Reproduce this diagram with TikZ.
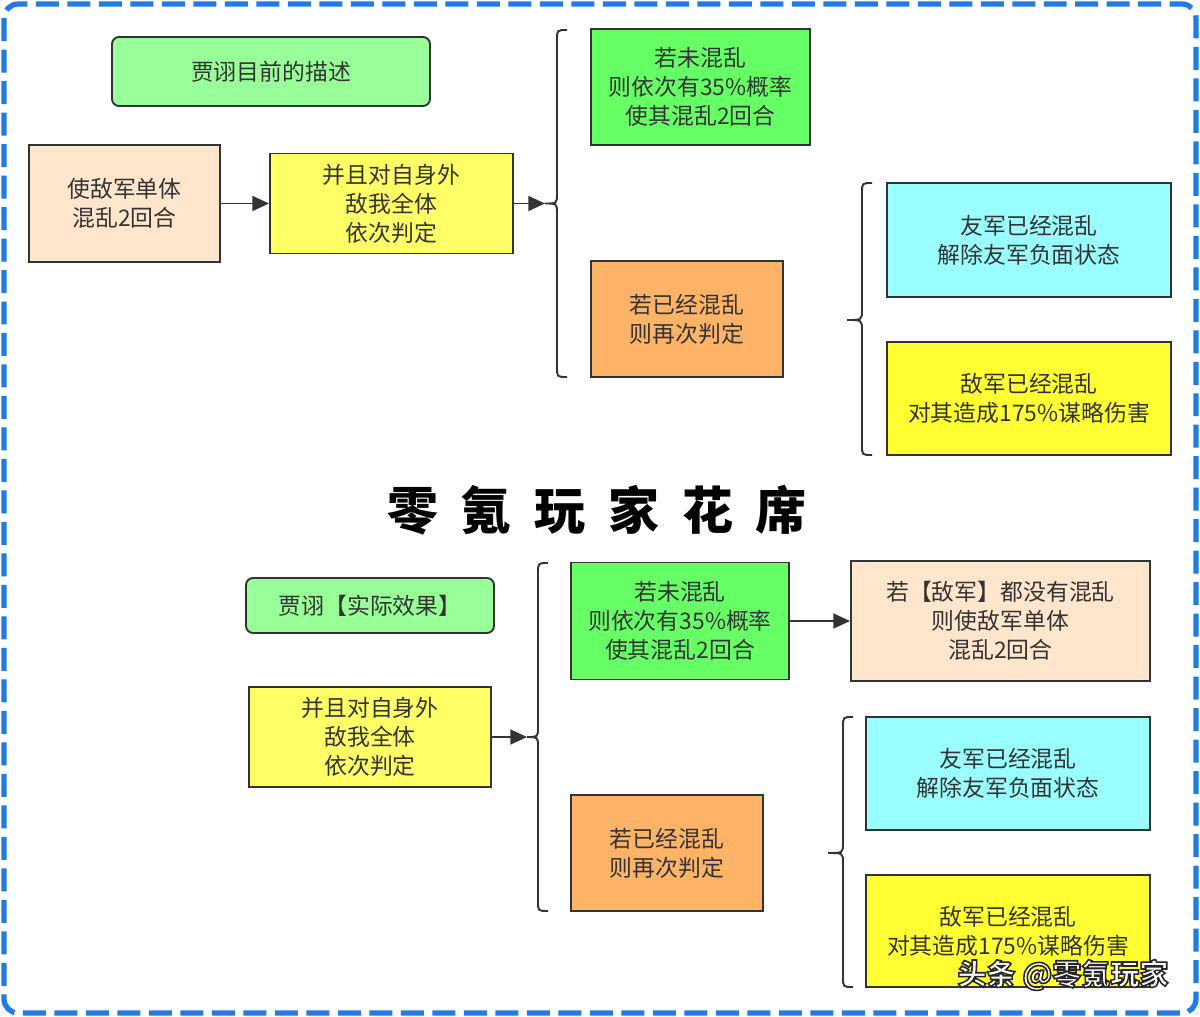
\documentclass[tikz,border=0pt]{standalone}
\usepackage{fontspec}
\setmainfont{Noto Sans CJK SC}
\usetikzlibrary{arrows.meta}
\definecolor{bord}{HTML}{333333}
\definecolor{frameblue}{HTML}{1F7BE6}
\definecolor{lgreen}{HTML}{99FF99}
\definecolor{dgreen}{HTML}{66FF66}
\definecolor{peach}{HTML}{FFE6CC}
\definecolor{lyellow}{HTML}{FFFF66}
\definecolor{byellow}{HTML}{FFFF33}
\definecolor{orng}{HTML}{FFB366}
\definecolor{cyn}{HTML}{99FFFF}
\newcommand\mybrace[5]{%
  \draw[brc] (#1+10,#2) .. controls (#1,#2) .. (#1,#2+10) -- (#1,#3-10)
    .. controls (#1,#3) .. (#1-#5,#3) .. controls (#1,#3) .. (#1,#3+10)
    -- (#1,#4-10) .. controls (#1,#4) .. (#1+10,#4);}
\newcommand\outlinetext[1]{\special{pdf:literal direct 0.15 G 2 Tr 0.9 w}#1\special{pdf:literal direct 0 Tr 1 w}}
\begin{document}
\begin{tikzpicture}[x=0.02cm,y=-0.02cm,
  bx/.style={draw=bord, line width=1.1pt, text=bord, align=center, inner sep=0pt,
    font=\fontsize{13pt}{16.5pt}\selectfont},
  rbx/.style={bx, rounded corners=4pt},
  sz/.style 2 args={minimum width=#1*0.02cm, minimum height=#2*0.02cm},
  arr/.style={draw=bord, line width=1.1pt, -{Triangle[length=9.5pt,width=8.5pt]}},
  brc/.style={draw=bord, line width=1.1pt}]
\useasboundingbox (0,0) rectangle (1200,1017);
\fill[white] (0,0) rectangle (1200,1017);
\draw[frameblue, line width=3pt, dash pattern=on 0.46cm off 0.17cm, rounded corners=8pt]
  (4,4) rectangle (1196,1013);

% top part
\node[rbx, fill=lgreen, sz={318}{69}] (t1) at (271,71.5) {贾诩目前的描述};
\node[bx, fill=peach, sz={191}{117}] (t2) at (124.5,203.5) {使敌军单体\\混乱2回合};
\node[bx, fill=lyellow, sz={243}{100}] (t3) at (391.5,203.5) {并且对自身外\\敌我全体\\依次判定};
\node[bx, fill=dgreen, sz={219}{116}] (t4) at (700.5,87) {若未混乱\\则依次有35\%概率\\使其混乱2回合};
\node[bx, fill=orng, sz={192}{116}] (t5) at (687,319) {若已经混乱\\则再次判定};
\node[bx, fill=cyn, sz={284}{114}] (t6) at (1029,240) {友军已经混乱\\解除友军负面状态};
\node[bx, fill=byellow, sz={284}{113}] (t7) at (1029,398.5) {敌军已经混乱\\对其造成175\%谋略伤害};
\coordinate (k1) at (545,203.5);
\coordinate (k2) at (847,320);
\mybrace{557}{30}{203.5}{377}{12}
\mybrace{862}{183}{320}{455}{15}
\draw[arr] (t2.east) -- (t3.west);
\draw[arr] (t3.east) -- (k1);

% title
\node[font=\fontsize{29pt}{33pt}\selectfont\bfseries, text=black] (title) at (597,510)
  {零\hspace{13pt}氪\hspace{13pt}玩\hspace{13pt}家\hspace{13pt}花\hspace{13pt}席};

% bottom part
\node[rbx, fill=lgreen, sz={248}{55}] (b1) at (370,605.5) {贾诩【实际效果】};
\node[bx, fill=lyellow, sz={242}{100}] (b2) at (370,737) {并且对自身外\\敌我全体\\依次判定};
\node[bx, fill=dgreen, sz={218}{117}] (b3) at (680,621) {若未混乱\\则依次有35\%概率\\使其混乱2回合};
\node[bx, fill=peach, sz={299}{120}] (b4) at (1000.5,621) {若【敌军】都没有混乱\\则使敌军单体\\混乱2回合};
\node[bx, fill=orng, sz={192}{116}] (b5) at (667,853) {若已经混乱\\则再次判定};
\node[bx, fill=cyn, sz={284}{113}] (b6) at (1008,773.5) {友军已经混乱\\解除友军负面状态};
\node[bx, fill=byellow, sz={284}{112}] (b7) at (1008,931) {敌军已经混乱\\对其造成175\%谋略伤害};
\coordinate (k3) at (527,737);
\coordinate (k4) at (828,853);
\mybrace{538}{563}{737}{911}{11}
\mybrace{843}{717}{853}{987}{15}
\draw[arr] (b2.east) -- (k3);
\draw[arr] (b3.east) -- (b4.west);

% watermark
\node[font=\fontsize{16.5pt}{19pt}\selectfont\bfseries, text=white, inner sep=0pt] (wm) at (1063,975)
  {\outlinetext{头条 @零氪玩家}};
\end{tikzpicture}
\end{document}
